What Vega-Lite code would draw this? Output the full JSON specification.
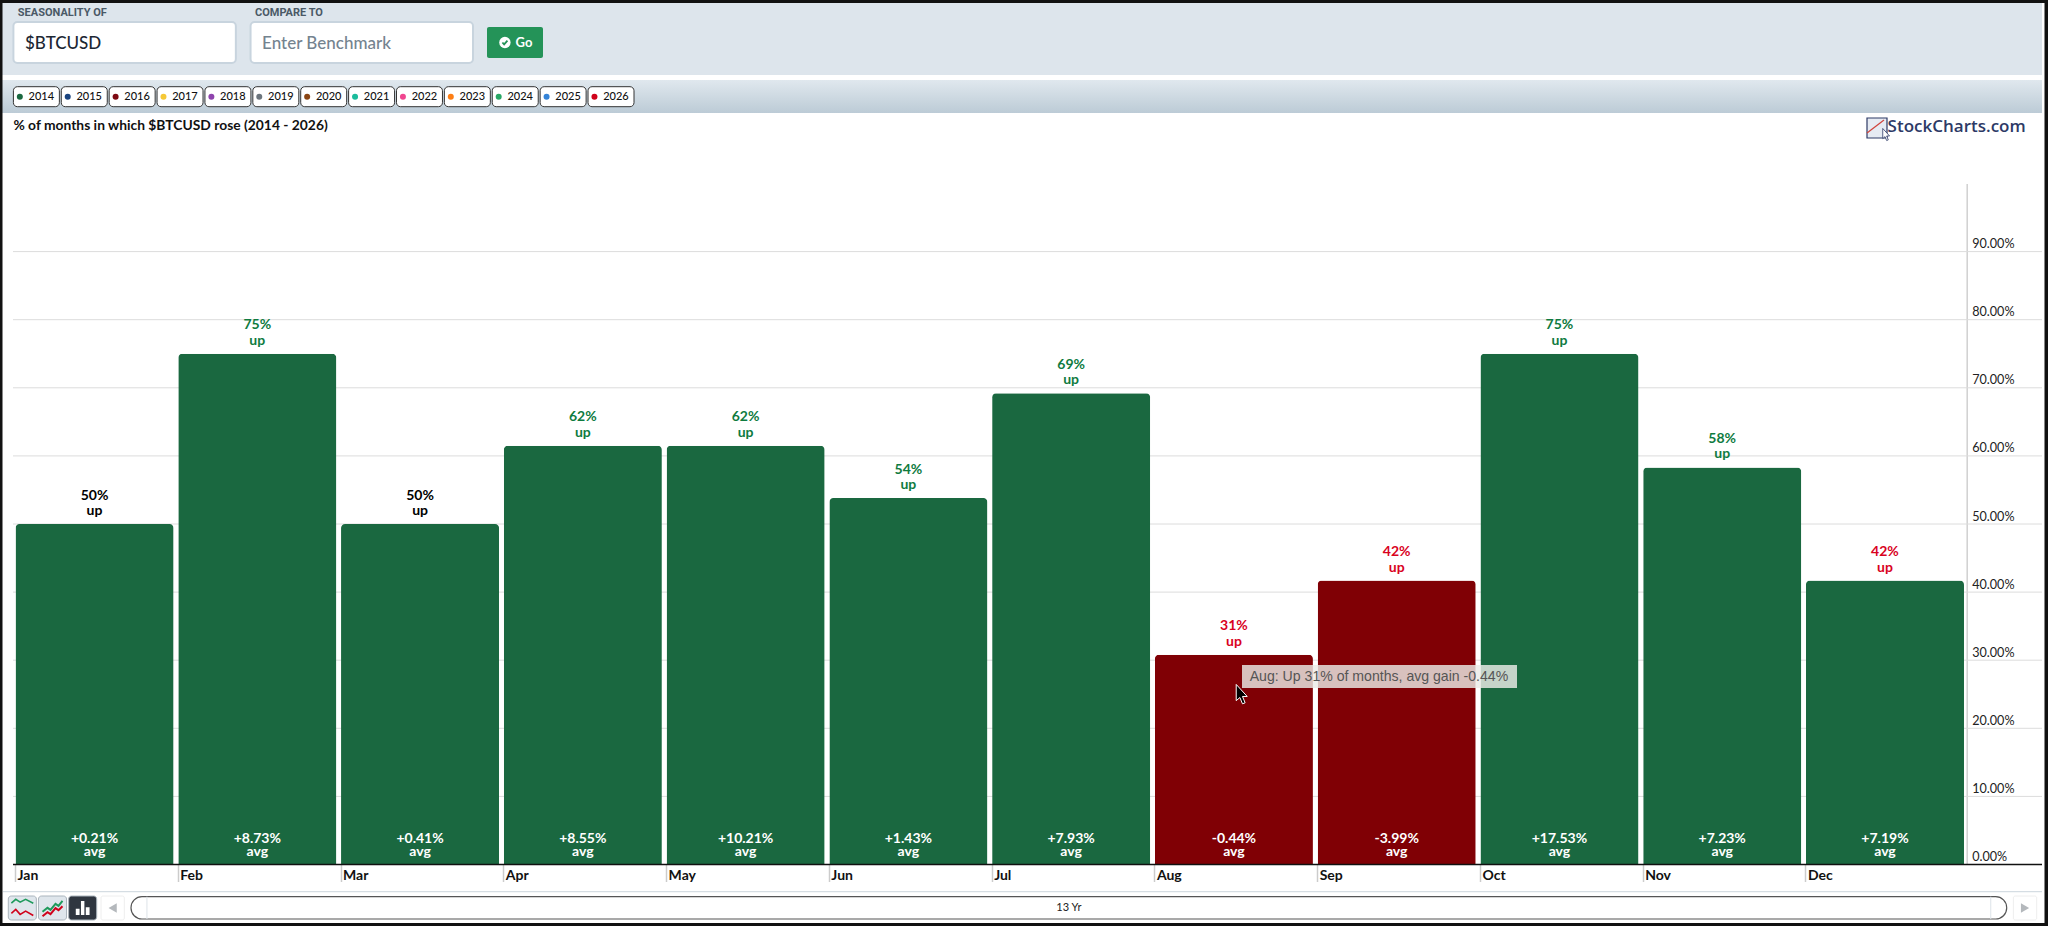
{
"$schema":"https://vega.github.io/schema/vega-lite/v6.json",
"width":2048,"height":926,"padding":0,"autosize":{"type":"none"},"background":"#ffffff",
"config":{"view":{"stroke":null},"text":{"font":"Lato"}},
"resolve":{"scale":{"x":"independent","y":"independent","color":"independent"}},
"layer":[
{"data":{"values":[{"part":"header"}]},"mark":{"type":"rect","color":"#dde5ec"},
 "encoding":{"x":{"datum":0,"type":"quantitative","scale":{"domain":[0,1],"range":[0,2042]},"axis":null},"x2":{"datum":1},
 "y":{"datum":0,"type":"quantitative","scale":{"domain":[0,1],"range":[3,75]},"axis":null},"y2":{"datum":1}}},
{"data":{"values":[{"part":"strip"}]},"mark":{"type":"rect","color":{"gradient":"linear","x1":0,"y1":0,"x2":0,"y2":1,"stops":[{"offset":0,"color":"#e0e8ee"},{"offset":1,"color":"#bccbd6"}]}},
 "encoding":{"x":{"datum":0,"type":"quantitative","scale":{"domain":[0,1],"range":[0,2042]},"axis":null},"x2":{"datum":1},
 "y":{"datum":0,"type":"quantitative","scale":{"domain":[0,1],"range":[80,113]},"axis":null},"y2":{"datum":1}}},
{"data":{"values":[{"slot":"SEASONALITY OF","entry":"$BTCUSD"},{"slot":"COMPARE TO","entry":"Enter Benchmark"}]},
 "encoding":{"x":{"field":"slot","type":"nominal","scale":{"type":"band","domain":["SEASONALITY OF","COMPARE TO"],"range":[13.4,473],"paddingInner":0.062,"paddingOuter":0},"axis":null},
 "y":{"datum":0,"type":"quantitative","scale":{"domain":[0,1],"range":[22,63]},"axis":null}},
 "layer":[
 {"mark":{"type":"rect","fill":"#ffffff","stroke":"#c8d4de","strokeWidth":2,"cornerRadius":4},"encoding":{"y2":{"datum":1}}},
 {"mark":{"type":"text","align":"left","baseline":"middle","fontSize":17,"fontWeight":500,"font":"Lato"},
  "encoding":{"x":{"field":"slot","type":"nominal","bandPosition":0.052},"y":{"datum":0.53,"type":"quantitative"},"text":{"field":"entry"},
  "color":{"condition":{"test":"datum.entry=='$BTCUSD'","value":"#1c2733"},"value":"#74838f"}}},
 {"mark":{"type":"text","align":"left","baseline":"middle","fontSize":11,"fontWeight":700,"font":"Roboto","color":"#4a5966","dy":-29.8},
  "encoding":{"x":{"field":"slot","type":"nominal","bandPosition":0.02},"y":{"datum":0.5,"type":"quantitative"},"text":{"field":"slot"}}}
 ]},
{"data":{"values":[{"label":"Go"}]},
 "encoding":{"x":{"datum":0,"type":"quantitative","scale":{"domain":[0,1],"range":[487,543]},"axis":null},
 "y":{"datum":0,"type":"quantitative","scale":{"domain":[0,1],"range":[27,58]},"axis":null}},
 "layer":[
 {"mark":{"type":"rect","color":"#249358","cornerRadius":2},"encoding":{"x2":{"datum":1},"y2":{"datum":1}}},
 {"mark":{"type":"point","shape":"circle","filled":true,"color":"#ffffff","size":130,"opacity":1},"encoding":{"x":{"datum":0.32,"type":"quantitative"},"y":{"datum":0.5,"type":"quantitative"}}},
 {"mark":{"type":"point","shape":"M-0.8,0 L-0.25,0.6 L0.8,-0.6","filled":false,"stroke":"#249358","strokeWidth":1.8,"size":40,"opacity":1},"encoding":{"x":{"datum":0.32,"type":"quantitative"},"y":{"datum":0.5,"type":"quantitative"}}},
 {"mark":{"type":"text","align":"left","baseline":"middle","fontSize":13,"fontWeight":700,"color":"#ffffff"},"encoding":{"x":{"datum":0.51,"type":"quantitative"},"y":{"datum":0.5,"type":"quantitative"},"text":{"field":"label"}}}
 ]},
{"data":{"values":[{"year":"2014"},{"year":"2015"},{"year":"2016"},{"year":"2017"},{"year":"2018"},{"year":"2019"},{"year":"2020"},{"year":"2021"},{"year":"2022"},{"year":"2023"},{"year":"2024"},{"year":"2025"},{"year":"2026"}]},
 "encoding":{"x":{"field":"year","type":"nominal","scale":{"type":"band","range":[13.4,634],"paddingInner":0.04,"paddingOuter":0},"axis":null},
 "y":{"datum":0,"type":"quantitative","scale":{"domain":[0,1],"range":[86.7,106.7]},"axis":null}},
 "layer":[
 {"mark":{"type":"rect","fill":"#ffffff","stroke":"#333333","strokeWidth":1,"cornerRadius":4},"encoding":{"y2":{"datum":1}}},
 {"mark":{"type":"point","filled":true,"shape":"circle","size":36,"opacity":1},
  "encoding":{"x":{"field":"year","type":"nominal","bandPosition":0.14},"y":{"datum":0.5,"type":"quantitative"},
  "color":{"field":"year","type":"nominal","scale":{"domain":["2014","2015","2016","2017","2018","2019","2020","2021","2022","2023","2024","2025","2026"],"range":["#1a6840","#1a4480","#7e0a12","#f5c836","#8e44ad","#6c757d","#8b4513","#1abc9c","#f0468f","#fd7e14","#28a765","#3584d8","#d0021b"]},"legend":null}}},
 {"mark":{"type":"text","align":"left","baseline":"middle","fontSize":11,"fontWeight":500,"color":"#111111"},
  "encoding":{"x":{"field":"year","type":"nominal","bandPosition":0.33},"y":{"datum":0.5,"type":"quantitative"},"text":{"field":"year"}}}
 ]},
{"data":{"values":[{"heading":"% of months in which $BTCUSD rose (2014 - 2026)"}]},"mark":{"type":"text","align":"left","baseline":"middle","fontSize":13.85,"fontWeight":700,"color":"#111111"},
 "encoding":{"x":{"datum":0,"type":"quantitative","scale":{"domain":[0,1],"range":[13.4,327]},"axis":null},"y":{"datum":0,"type":"quantitative","scale":{"domain":[0,1],"range":[125.7,140]},"axis":null},"text":{"field":"heading"}}},
{"data":{"values":[{"brand":"StockCharts.com"}]},
 "encoding":{"x":{"datum":0,"type":"quantitative","scale":{"domain":[0,1],"range":[1867,1887]},"axis":null},"y":{"datum":0,"type":"quantitative","scale":{"domain":[0,1],"range":[118,138]},"axis":null}},
 "layer":[
 {"mark":{"type":"rect","fill":"#e6ebf3","stroke":"#2d3a66","strokeWidth":1.2},"encoding":{"x2":{"datum":1},"y2":{"datum":1}}},
 {"mark":{"type":"rule","color":"#d0443c","strokeWidth":1.2},"encoding":{"x2":{"datum":0.85},"y":{"datum":0.75,"type":"quantitative"},"y2":{"datum":0.1}}},
 {"mark":{"type":"point","shape":"M-0.5,-1 L-0.5,0.55 L-0.15,0.25 L0.1,0.85 L0.35,0.75 L0.1,0.15 L0.55,0.15 Z","filled":true,"fill":"#ffffff","stroke":"#2d3a66","strokeWidth":0.8,"size":170,"opacity":1},"encoding":{"x":{"datum":0.95,"type":"quantitative"},"y":{"datum":0.85,"type":"quantitative"}}},
 {"mark":{"type":"text","align":"left","baseline":"middle","fontSize":17,"fontWeight":600,"font":"Open Sans","color":"#2d3a66"},"encoding":{"x":{"datum":1.03,"type":"quantitative"},"y":{"datum":0.45,"type":"quantitative"},"text":{"field":"brand"}}}
 ]},
{"data":{"values":[{"tick":10},{"tick":20},{"tick":30},{"tick":40},{"tick":50},{"tick":60},{"tick":70},{"tick":80},{"tick":90}]},"mark":{"type":"rule","color":"#dcdcdc","strokeWidth":1},
 "encoding":{"x":{"datum":0,"type":"quantitative","scale":{"domain":[0,1],"range":[13,2042]},"axis":null},"x2":{"datum":1},
 "y":{"field":"tick","type":"quantitative","scale":{"domain":[0,100],"range":[864.5,183.5]},"axis":null}}},
{"data":{"values":[
 {"month":"Jan","up":50,"upLabel":"50%","avg":0.21,"avgLabel":"+0.21%"},
 {"month":"Feb","up":75,"upLabel":"75%","avg":8.73,"avgLabel":"+8.73%"},
 {"month":"Mar","up":50,"upLabel":"50%","avg":0.41,"avgLabel":"+0.41%"},
 {"month":"Apr","up":61.5,"upLabel":"62%","avg":8.55,"avgLabel":"+8.55%"},
 {"month":"May","up":61.5,"upLabel":"62%","avg":10.21,"avgLabel":"+10.21%"},
 {"month":"Jun","up":53.8,"upLabel":"54%","avg":1.43,"avgLabel":"+1.43%"},
 {"month":"Jul","up":69.2,"upLabel":"69%","avg":7.93,"avgLabel":"+7.93%"},
 {"month":"Aug","up":30.8,"upLabel":"31%","avg":-0.44,"avgLabel":"-0.44%"},
 {"month":"Sep","up":41.7,"upLabel":"42%","avg":-3.99,"avgLabel":"-3.99%"},
 {"month":"Oct","up":75,"upLabel":"75%","avg":17.53,"avgLabel":"+17.53%"},
 {"month":"Nov","up":58.3,"upLabel":"58%","avg":7.23,"avgLabel":"+7.23%"},
 {"month":"Dec","up":41.7,"upLabel":"42%","avg":7.19,"avgLabel":"+7.19%"}]},
 "encoding":{"x":{"field":"month","type":"nominal"}},
 "layer":[
 {"mark":{"type":"bar","cornerRadiusTopLeft":4,"cornerRadiusTopRight":4},
  "encoding":{
  "x":{"field":"month","type":"nominal","scale":{"type":"band","domain":["Jan","Feb","Mar","Apr","May","Jun","Jul","Aug","Sep","Oct","Nov","Dec"],"range":[15.5,1964],"paddingInner":0.029,"paddingOuter":0},
   "axis":{"title":null,"orient":"bottom","offset":-61.5,"bandPosition":0,"domain":false,"ticks":true,"tickSize":17,"tickColor":"#cccccc","tickWidth":1.5,"labelPadding":-13,"labelAlign":"left","labelBaseline":"top","labelOffset":-77,"labelAngle":0,"labelFont":"Lato","labelFontSize":14,"labelFontWeight":700,"labelColor":"#111111","grid":false}},
  "y":{"field":"up","type":"quantitative","scale":{"domain":[0,100],"range":[864.5,183.5]},
   "axis":{"title":null,"orient":"right","offset":-81.3,"values":[0,10,20,30,40,50,60,70,80,90],"grid":false,"ticks":false,"domain":true,"domainColor":"#d0d0d0","domainWidth":1.5,"labelPadding":5,"labelAlign":"left","labelOffset":-8,"labelFont":"Lato","labelFontSize":12.6,"labelColor":"#222222","labelExpr":"format(datum.value,'.2f')+'%'"}},
  "color":{"condition":{"test":"datum.avg<0","value":"#800005"},"value":"#1a6840"}}},
 {"mark":{"type":"text","fontSize":14,"fontWeight":700,"dy":-28.5,"baseline":"middle"},
  "encoding":{"y":{"field":"up","type":"quantitative"},"text":{"field":"upLabel"},"color":{"condition":[{"test":"datum.up>50","value":"#0f7b3f"},{"test":"datum.up<50","value":"#d9021e"}],"value":"#000000"}}},
 {"mark":{"type":"text","fontSize":14,"fontWeight":700,"dy":-13,"baseline":"middle","text":"up"},
  "encoding":{"y":{"field":"up","type":"quantitative"},"color":{"condition":[{"test":"datum.up>50","value":"#0f7b3f"},{"test":"datum.up<50","value":"#d9021e"}],"value":"#000000"}}},
 {"mark":{"type":"text","fontSize":14,"fontWeight":700,"dy":-25.5,"baseline":"middle","color":"#ffffff"},
  "encoding":{"y":{"datum":0,"type":"quantitative"},"text":{"field":"avgLabel"}}},
 {"mark":{"type":"text","fontSize":14,"fontWeight":700,"dy":-12.5,"baseline":"middle","color":"#ffffff","text":"avg"},
  "encoding":{"y":{"datum":0,"type":"quantitative"}}}
 ]},
{"data":{"values":[{"baseline":0}]},"mark":{"type":"rule","color":"#111111","strokeWidth":1.6},
 "encoding":{"x":{"datum":0,"type":"quantitative","scale":{"domain":[0,1],"range":[13,2042]},"axis":null},"x2":{"datum":1},
 "y":{"field":"baseline","type":"quantitative","scale":{"domain":[0,100],"range":[864.5,183.5]},"axis":null}}},
{"data":{"values":[{"tip":"Aug: Up 31% of months, avg gain -0.44%"}]},
 "encoding":{"x":{"datum":0,"type":"quantitative","scale":{"domain":[0,1],"range":[1242,1517]},"axis":null},"y":{"datum":0,"type":"quantitative","scale":{"domain":[0,1],"range":[665,688]},"axis":null}},
 "layer":[
 {"mark":{"type":"rect","fill":"#ecebe8","fillOpacity":0.82},"encoding":{"x2":{"datum":1},"y2":{"datum":1}}},
 {"mark":{"type":"text","align":"left","baseline":"middle","font":"Liberation Sans","fontSize":14.1,"color":"#555555"},"encoding":{"x":{"datum":0.028,"type":"quantitative"},"y":{"datum":0.5,"type":"quantitative"},"text":{"field":"tip"}}},
 {"mark":{"type":"point","shape":"M-0.5,-1 L-0.5,0.55 L-0.15,0.25 L0.1,0.85 L0.35,0.75 L0.1,0.15 L0.55,0.15 Z","filled":true,"fill":"#000000","stroke":"#ffffff","strokeWidth":1,"size":440,"opacity":1},"encoding":{"x":{"datum":-0.002,"type":"quantitative"},"y":{"datum":1.3,"type":"quantitative"}}}
 ]},
{"data":{"values":[{"part":"separator"}]},"mark":{"type":"rule","color":"#d5dde3","strokeWidth":1.2},
 "encoding":{"x":{"datum":0,"type":"quantitative","scale":{"domain":[0,1],"range":[3,2042]},"axis":null},"x2":{"datum":1},"y":{"datum":0,"type":"quantitative","scale":{"domain":[0,1],"range":[891.7,893]},"axis":null}}},
{"data":{"values":[{"tool":"spread"},{"tool":"line"},{"tool":"bars"}]},
 "encoding":{"x":{"field":"tool","type":"nominal","scale":{"type":"band","domain":["spread","line","bars"],"range":[8.3,96.7],"paddingInner":0.07,"paddingOuter":0},"axis":null},
 "y":{"datum":0,"type":"quantitative","scale":{"domain":[0,1],"range":[896,920]},"axis":null}},
 "layer":[
 {"mark":{"type":"rect","cornerRadius":3,"strokeWidth":1,"stroke":"#aab4bc"},"encoding":{"y2":{"datum":1},"fill":{"condition":{"test":"datum.tool=='bars'","value":"#2f3640"},"value":"#dfe6ec"}}},
 {"transform":[{"filter":"datum.tool=='spread'"}],"mark":{"type":"point","shape":"M-1,0 L-0.6,-0.35 L-0.2,-0.1 L0.3,-0.35 L1,0","filled":false,"stroke":"#1f9a5c","strokeWidth":1.6,"size":480,"opacity":1},"encoding":{"y":{"datum":0.3,"type":"quantitative"}}},
 {"transform":[{"filter":"datum.tool=='spread'"}],"mark":{"type":"point","shape":"M-1,0 L-0.6,-0.35 L-0.2,0.1 L0.3,-0.2 L1,0.2","filled":false,"stroke":"#d0021b","strokeWidth":1.6,"size":480,"opacity":1},"encoding":{"y":{"datum":0.72,"type":"quantitative"}}},
 {"transform":[{"filter":"datum.tool=='line'"}],"mark":{"type":"point","shape":"M-1,0.5 L-0.5,0.1 L-0.2,0.3 L0.3,-0.3 L0.6,-0.1 L1,-0.6","filled":false,"stroke":"#1f9a5c","strokeWidth":2,"size":400,"opacity":1},"encoding":{"y":{"datum":0.45,"type":"quantitative"}}},
 {"transform":[{"filter":"datum.tool=='line'"}],"mark":{"type":"point","shape":"M-1,0.7 L-0.5,0.3 L-0.2,0.5 L0.3,-0.1 L0.6,0.1 L1,-0.3","filled":false,"stroke":"#d0021b","strokeWidth":2,"size":400,"opacity":1},"encoding":{"y":{"datum":0.55,"type":"quantitative"}}},
 {"transform":[{"filter":"datum.tool=='bars'"}],"mark":{"type":"point","shape":"M-1,1 L-1,0.1 L-0.45,0.1 L-0.45,1 Z M-0.25,1 L-0.25,-1 L0.25,-1 L0.25,1 Z M0.45,1 L0.45,-0.1 L1,-0.1 L1,1 Z","filled":true,"fill":"#ffffff","strokeWidth":0,"size":190,"opacity":1},"encoding":{"y":{"datum":0.5,"type":"quantitative"}}}
 ]},
{"data":{"values":[{"arrow":"back"},{"arrow":"forward"}]},
 "encoding":{"x":{"field":"arrow","type":"nominal","scale":{"type":"band","domain":["back","forward"],"range":[101,2036.7],"paddingInner":0.9878,"paddingOuter":0},"axis":null},
 "y":{"datum":0,"type":"quantitative","scale":{"domain":[0,1],"range":[896,920]},"axis":null}},
 "layer":[
 {"mark":{"type":"rect","fill":"#ffffff","stroke":"#eeeeee","strokeWidth":1,"cornerRadius":2},"encoding":{"y2":{"datum":1}}},
 {"mark":{"type":"point","filled":true,"color":"#b4b8bc","size":90,"opacity":1},"encoding":{"y":{"datum":0.5,"type":"quantitative"},
  "shape":{"field":"arrow","type":"nominal","scale":{"domain":["back","forward"],"range":["triangle-left","triangle-right"]},"legend":null}}}
 ]},
{"data":{"values":[{"span":"13 Yr"}]},
 "encoding":{"x":{"datum":0,"type":"quantitative","scale":{"domain":[0,1],"range":[131,2006.7]},"axis":null},"y":{"datum":0,"type":"quantitative","scale":{"domain":[0,1],"range":[896.7,919]},"axis":null}},
 "layer":[
 {"mark":{"type":"rect","fill":"#ffffff","stroke":"#555555","strokeWidth":1.2,"cornerRadius":11},"encoding":{"x2":{"datum":1},"y2":{"datum":1}}},
 {"mark":{"type":"text","baseline":"middle","align":"center","fontSize":11,"color":"#222222"},"encoding":{"x":{"datum":0.5,"type":"quantitative"},"y":{"datum":0.5,"type":"quantitative"},"text":{"field":"span"}}},
 {"mark":{"type":"rule","color":"#dde3e8","strokeWidth":1},"encoding":{"x":{"datum":0.0085,"type":"quantitative"},"y2":{"datum":1}}},
 {"mark":{"type":"rule","color":"#dde3e8","strokeWidth":1},"encoding":{"x":{"datum":0.9915,"type":"quantitative"},"y2":{"datum":1}}}
 ]},
{"data":{"values":[{"part":"frame"}]},"mark":{"type":"rect","fill":null,"fillOpacity":0,"stroke":"#111111","strokeWidth":4},
 "encoding":{"x":{"datum":0,"type":"quantitative","scale":{"domain":[0,1],"range":[0.5,2046.5]},"axis":null},"x2":{"datum":1},
 "y":{"datum":0,"type":"quantitative","scale":{"domain":[0,1],"range":[1,925]},"axis":null},"y2":{"datum":1}}}
]}
